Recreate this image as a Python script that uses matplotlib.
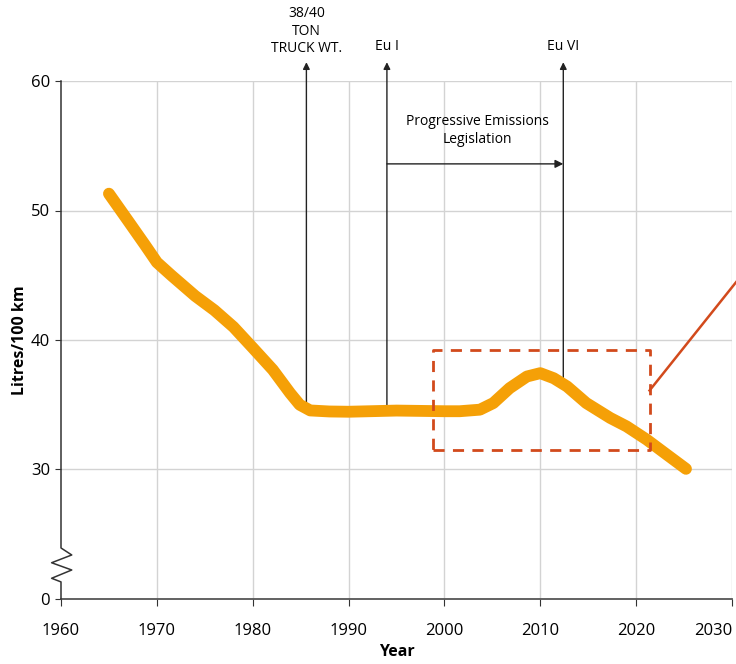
import numpy as np
import matplotlib.pyplot as plt

plt.rcParams['font.family'] = ['Open Sans', 'DejaVu Sans']

# ==== DATOS ====
years = [1965.0, 1967.0, 1968.8, 1970.0, 1971.5, 1974.0, 1976.0, 1978.0, 1980.0,
         1982.1, 1983.9, 1984.9, 1986.0, 1988.0, 1990, 1995, 2000, 2001.6, 2003.7,
         2005.1, 2006.8, 2008.6, 2010.0, 2011.4, 2012.8, 2014.8, 2017.3, 2019.0,
         2021.1, 2023.2, 2025.2]
litres = [51.3, 49.2, 47.3, 46.0, 45.0, 43.4, 42.3, 41.0, 39.4,
          37.7, 35.9, 35.0, 34.56, 34.48, 34.46, 34.55, 34.5, 34.5, 34.62,
          35.13, 36.28, 37.18, 37.44, 37.05, 36.41, 35.13, 33.98, 33.33,
          32.31, 31.15, 30.05]

ytick_pos = [20, 30, 40, 50, 60]        # eje comprimido: 20 se muestra como 0
ytick_lbl = ['0', '30', '40', '50', '60']
xticks = [1960, 1970, 1980, 1990, 2000, 2010, 2020, 2030]

truck_year, truck_val = 1985.6, 34.6
eu1_year, eu1_val = 1994.0, 34.6
eu6_year, eu6_val = 2012.4, 36.6
arrow_top = 61.45
legis_val = 53.6

box_x = [1998.85, 2021.4]
box_y = [31.5, 39.2]
zoom_line = ([2021.4, 2031.0], [36.1, 45.0])

orange = '#F5A007'
red = '#D24A1C'

# ==== FIGURA ====
fig = plt.figure(figsize=(7.36, 6.64), dpi=100)
ax = fig.add_axes([61/736, 1 - 599/664, 671/736, 518/664])
ax.set_xlim(1960, 2030)
ax.set_ylim(20, 60)

ax.set_xticks(xticks)
ax.set_yticks(ytick_pos)
ax.set_yticklabels(ytick_lbl)
ax.tick_params(axis='x', labelsize=12, length=5, color='#333333', pad=12)
ax.tick_params(axis='y', labelsize=12, length=4, color='#333333', pad=4)
ax.get_xticklabels()[-1].set_horizontalalignment('right')

# rejilla
for xv in xticks[1:]:
    ax.axvline(xv, color='#D3D3D3', lw=1, zorder=0)
for yv in ytick_pos[1:]:
    ax.axhline(yv, color='#D3D3D3', lw=1, zorder=0)

for s in ['top', 'right', 'left']:
    ax.spines[s].set_visible(False)
ax.spines['bottom'].set_color('#555555')
ax.spines['bottom'].set_linewidth(1.3)

# eje y con corte en zigzag (coordenadas de ejes)
zx = [0, 0, 0.016, -0.014, 0.016, -0.014, 0, 0]
zy = [1, 0.0985, 0.085, 0.070, 0.056, 0.040, 0.033, 0]
ax.plot(zx, zy, transform=ax.transAxes, color='#333333', lw=1.1, clip_on=False, zorder=3)

# curva principal
ax.plot(years, litres, color=orange, lw=8.5, solid_capstyle='round',
        solid_joinstyle='round', zorder=4)

# flechas verticales
for xv, yv in [(truck_year, truck_val), (eu1_year, eu1_val), (eu6_year, eu6_val)]:
    ax.annotate('', xy=(xv, arrow_top), xytext=(xv, yv),
                arrowprops=dict(arrowstyle='-|>', color='#222222', lw=1,
                                mutation_scale=10, shrinkA=0, shrinkB=0),
                annotation_clip=False, zorder=3)

ax.annotate('', xy=(eu6_year, legis_val), xytext=(eu1_year, legis_val),
            arrowprops=dict(arrowstyle='-|>', color='#222222', lw=1,
                            mutation_scale=12, shrinkA=0, shrinkB=0), zorder=3)

ax.text(truck_year, 61.9, '38/40\nTON\nTRUCK WT.', ha='center', va='bottom',
        fontsize=10, linespacing=1.25)
ax.text(eu1_year, 62.1, 'Eu I', ha='center', va='bottom', fontsize=10)
ax.text(eu6_year, 62.1, 'Eu VI', ha='center', va='bottom', fontsize=10)
ax.text(2003.4, 56.2, 'Progressive Emissions\nLegislation', ha='center',
        va='center', fontsize=10, linespacing=1.3)

# recuadro punteado y linea de zoom
ax.plot([box_x[0], box_x[1], box_x[1], box_x[0], box_x[0]],
        [box_y[0], box_y[0], box_y[1], box_y[1], box_y[0]],
        color=red, lw=2, ls=(0, (4, 3)), zorder=5)
ax.plot(zoom_line[0], zoom_line[1], color=red, lw=1.8, clip_on=False, zorder=5)

ax.set_xlabel('Year', fontsize=11.5, fontweight='bold', labelpad=4)
ax.set_ylabel('Litres/100 km', fontsize=11.5, fontweight='bold', labelpad=2)

fig.savefig('out.png', dpi=100)
